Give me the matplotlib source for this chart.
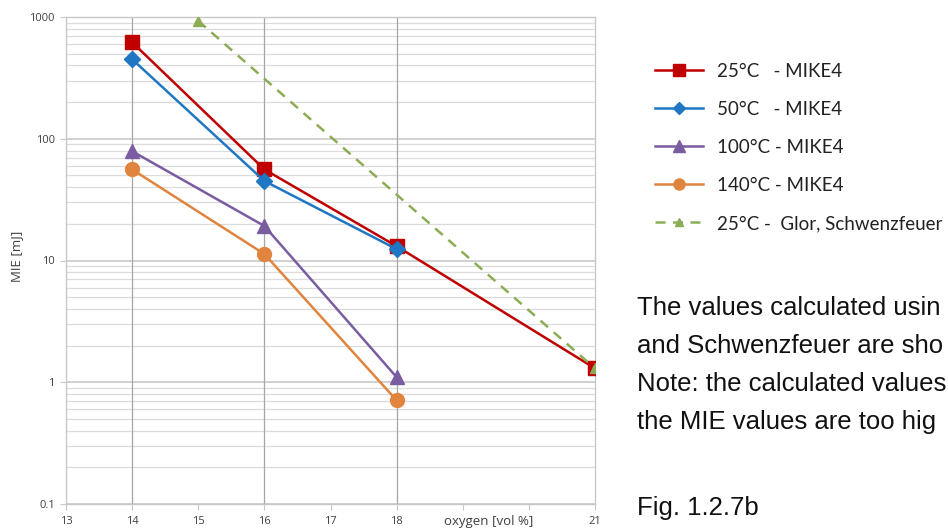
import matplotlib.pyplot as plt
from matplotlib.ticker import FixedLocator, LogLocator, NullFormatter

# MIE vs. oxygen concentration
oxygen = [14, 16, 18, 21]
mie_25 = [620, 56, 13.1, 1.3]
oxygen_b = [14, 16, 18]
mie_50 = [450, 45, 12.4]
mie_100 = [79, 19.2, 1.1]
mie_140 = [56, 11.3, 0.71]
oxygen_glor = [15, 21]
mie_glor = [930, 1.3]

x_ticks = [13, 14, 15, 16, 17, 18, 19, 20, 21]
x_labels = ["13", "14", "15", "16", "17", "18", "", "", "21"]
y_ticks = [0.1, 1, 10, 100, 1000]
y_labels = ["0.1", "1", "10", "100", "1000"]

note_lines = [
    "The values calculated usin",
    "and Schwenzfeuer are sho",
    "Note: the calculated values",
    "the MIE values are too hig",
]

W, H = 948, 532
fig = plt.figure(figsize=(W / 100, H / 100), dpi=100)
ax = fig.add_axes([66 / W, 1 - 504 / H, (595 - 66) / W, (504 - 17) / H])

ax.set_yscale("log")
ax.set_xlim(13, 21)
ax.set_ylim(0.1, 1000)

ax.yaxis.set_major_locator(FixedLocator(y_ticks))
ax.set_yticklabels(y_labels)
ax.yaxis.set_minor_locator(LogLocator(base=10, subs=range(2, 10)))
ax.yaxis.set_minor_formatter(NullFormatter())
ax.set_xticks(x_ticks)
ax.set_xticklabels(x_labels)
for lbl in ax.get_xticklabels() + ax.get_yticklabels():
    lbl.set_fontfamily("Open Sans")

ax.grid(True, which="major", axis="y", color="#d0d0d0", linewidth=1.4)
ax.grid(True, which="minor", axis="y", color="#dcdcdc", linewidth=0.9)
for xv in oxygen_b:
    ax.axvline(xv, color="#a6a6a6", linewidth=0.9, zorder=1)
ax.set_axisbelow(True)

for s in ["left", "bottom", "right", "top"]:
    ax.spines[s].set_color("#c8c8c8")
    ax.spines[s].set_linewidth(1.0)
ax.tick_params(axis="both", which="major", length=4, color="#c8c8c8",
               labelsize=8, labelcolor="#404040")
ax.tick_params(axis="x", pad=5)
ax.tick_params(axis="y", pad=4)
ax.tick_params(axis="y", which="minor", length=0)

ax.plot(oxygen, mie_25, "-s", color="#c00000", linewidth=1.8, markersize=10,
        label="25°C   - MIKE4", zorder=3)
ax.plot(oxygen_b, mie_50, "-D", color="#1f77c4", linewidth=1.8, markersize=8,
        label="50°C   - MIKE4", zorder=4)
ax.plot(oxygen_b, mie_100, "-^", color="#7a5ca0", linewidth=1.8, markersize=10,
        label="100°C - MIKE4", zorder=3)
ax.plot(oxygen_b, mie_140, "-o", color="#e0843e", linewidth=1.8, markersize=10,
        label="140°C - MIKE4", zorder=3)
ax.plot(oxygen_glor, mie_glor, "--^", color="#8cac56", linewidth=1.8, markersize=7,
        dashes=(4, 3), label="25°C -  Glor, Schwenzfeuer", zorder=5)

fig.text(17 / W, 1 - 256 / H, "MIE [mJ]", rotation=90, fontsize=9.5,
         family="Open Sans", color="#404040", ha="center", va="center")
fig.text(489 / W, 1 - 521 / H, "oxygen [vol %]", fontsize=9.5,
         family="Open Sans", color="#404040", ha="center", va="center")

handles, labels = ax.get_legend_handles_labels()
leg = fig.legend(handles, labels, loc="upper left",
                 bbox_to_anchor=(638 / W, 1 - 46 / H),
                 frameon=False, handlelength=2.55, labelspacing=1.12,
                 handletextpad=0.75, markerscale=0.8,
                 prop={"family": "Lato", "size": 13.5})
for t in leg.get_texts():
    t.set_color("#222222")

for i, line in enumerate(note_lines):
    fig.text(637 / W, 1 - (308 + 38 * i) / H, line, fontsize=18.5,
             family="Liberation Sans", va="center", ha="left", color="#111111")
fig.text(637 / W, 1 - 508 / H, "Fig. 1.2.7b", fontsize=18.5,
         family="Liberation Sans", va="center", ha="left", color="#111111")

fig.savefig("out.png", dpi=100)
